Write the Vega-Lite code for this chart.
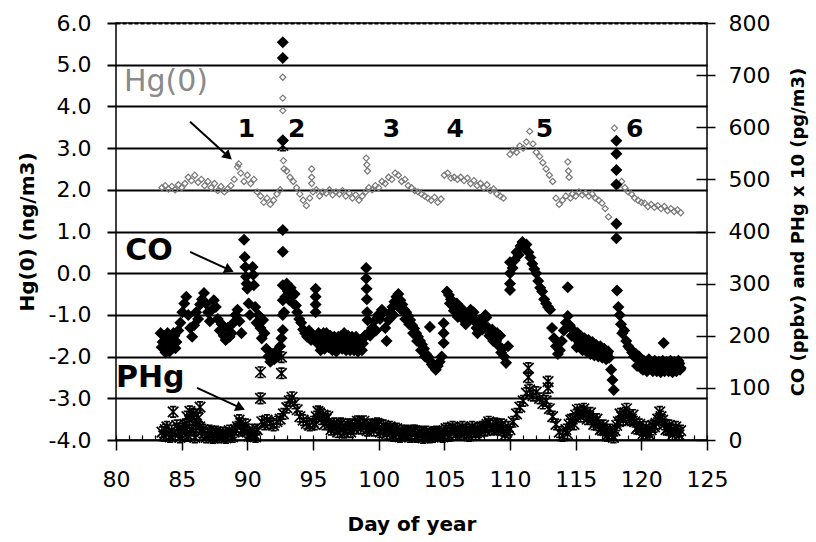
{
  "$schema": "https://vega.github.io/schema/vega-lite/v6.json",
  "width": 591,
  "height": 417,
  "autosize": {"type": "none"},
  "padding": {"left": 116, "top": 23, "right": 109, "bottom": 102},
  "background": "white",
  "config": {
    "view": {"stroke": "black", "strokeWidth": 1.5},
    "text": {"font": "DejaVu Sans"},
    "axis": {
      "labelFont": "DejaVu Sans",
      "labelFontSize": 22,
      "labelColor": "black",
      "titleFont": "DejaVu Sans",
      "titleColor": "black",
      "titleFontWeight": "bold",
      "tickColor": "black",
      "domain": false,
      "grid": false
    }
  },
  "datasets": {
    "hg": [
      {"day":83.5,"value":2.05},{"day":83.75,"value":2.1},{"day":84,"value":2.02},{"day":84.25,"value":2.08},{"day":84.5,"value":2.0},{"day":84.75,"value":2.12},
      {"day":85,"value":2.05},{"day":85.25,"value":2.15},{"day":85.5,"value":2.3},{"day":85.75,"value":2.22},{"day":86,"value":2.35},{"day":86.25,"value":2.18},
      {"day":86.5,"value":2.25},{"day":86.75,"value":2.1},{"day":87,"value":2.2},{"day":87.25,"value":2.05},{"day":87.5,"value":2.15},{"day":87.75,"value":1.98},
      {"day":88,"value":2.08},{"day":88.25,"value":1.95},{"day":88.5,"value":2.02},{"day":88.75,"value":2.1},{"day":89,"value":2.25},{"day":89.25,"value":2.55},
      {"day":89.35,"value":2.62},{"day":89.5,"value":2.4},{"day":89.75,"value":2.2},{"day":90,"value":2.35},{"day":90.25,"value":2.15},{"day":90.5,"value":2.25},
      {"day":90.75,"value":1.95},{"day":91,"value":1.85},{"day":91.25,"value":1.7},{"day":91.5,"value":1.8},{"day":91.75,"value":1.65},{"day":92,"value":1.75},
      {"day":92.25,"value":1.9},{"day":92.5,"value":2.0},{"day":92.7,"value":4.7},{"day":92.7,"value":4.2},{"day":92.7,"value":3.9},{"day":92.75,"value":2.7},
      {"day":92.8,"value":2.5},{"day":93,"value":2.45},{"day":93.25,"value":2.3},{"day":93.5,"value":2.2},{"day":93.75,"value":2.05},{"day":94,"value":1.9},
      {"day":94.25,"value":1.75},{"day":94.5,"value":1.62},{"day":94.75,"value":1.8},{"day":94.9,"value":2.5},{"day":94.9,"value":2.3},{"day":94.9,"value":2.15},
      {"day":95,"value":1.95},{"day":95.25,"value":2.0},{"day":95.5,"value":1.85},{"day":95.75,"value":1.95},{"day":96,"value":1.92},{"day":96.25,"value":2.0},
      {"day":96.5,"value":1.88},{"day":96.75,"value":1.95},{"day":97,"value":1.9},{"day":97.25,"value":1.98},{"day":97.5,"value":1.85},{"day":97.75,"value":1.92},
      {"day":98,"value":1.8},{"day":98.25,"value":1.88},{"day":98.5,"value":1.75},{"day":98.75,"value":1.85},{"day":99,"value":1.95},{"day":99.05,"value":2.76},
      {"day":99.1,"value":2.6},{"day":99.15,"value":2.45},{"day":99.25,"value":2.05},{"day":99.5,"value":2.0},{"day":99.75,"value":2.1},{"day":100,"value":2.05},
      {"day":100.25,"value":2.2},{"day":100.5,"value":2.15},{"day":100.75,"value":2.3},{"day":101,"value":2.25},{"day":101.25,"value":2.4},{"day":101.5,"value":2.35},
      {"day":101.75,"value":2.2},{"day":102,"value":2.25},{"day":102.25,"value":2.1},{"day":102.5,"value":2.05},{"day":102.75,"value":1.98},{"day":103,"value":1.95},
      {"day":103.25,"value":1.9},{"day":103.5,"value":1.85},{"day":103.75,"value":1.8},{"day":104,"value":1.75},{"day":104.25,"value":1.82},{"day":104.5,"value":1.7},
      {"day":104.75,"value":1.78},{"day":105,"value":2.35},{"day":105.25,"value":2.4},{"day":105.5,"value":2.28},{"day":105.75,"value":2.3},{"day":106,"value":2.25},
      {"day":106.25,"value":2.3},{"day":106.5,"value":2.22},{"day":106.75,"value":2.28},{"day":107,"value":2.15},{"day":107.25,"value":2.22},{"day":107.5,"value":2.1},
      {"day":107.75,"value":2.15},{"day":108,"value":2.05},{"day":108.25,"value":2.12},{"day":108.5,"value":1.98},{"day":108.75,"value":2.02},{"day":109,"value":1.9},
      {"day":109.25,"value":1.85},{"day":109.5,"value":1.8},{"day":110,"value":2.85},{"day":110.25,"value":2.95},{"day":110.5,"value":2.9},{"day":110.75,"value":3.05},
      {"day":111,"value":3.0},{"day":111.25,"value":3.15},{"day":111.5,"value":3.4},{"day":111.75,"value":3.1},{"day":112,"value":2.9},{"day":112.25,"value":2.8},
      {"day":112.5,"value":2.65},{"day":112.75,"value":2.5},{"day":113,"value":2.35},{"day":113.25,"value":2.2},{"day":113.5,"value":1.8},{"day":113.75,"value":1.65},
      {"day":114,"value":1.75},{"day":114.4,"value":2.67},{"day":114.45,"value":2.45},{"day":114.5,"value":2.3},{"day":114.25,"value":1.85},{"day":114.6,"value":1.8},
      {"day":114.75,"value":1.9},{"day":115,"value":1.85},{"day":115.25,"value":1.95},{"day":115.5,"value":1.88},{"day":115.75,"value":1.92},{"day":116,"value":1.85},
      {"day":116.25,"value":1.9},{"day":116.5,"value":1.8},{"day":116.75,"value":1.75},{"day":117,"value":1.68},{"day":117.25,"value":1.55},{"day":117.5,"value":1.35},
      {"day":117.95,"value":3.48},{"day":118.25,"value":2.1},{"day":118.5,"value":2.2},{"day":118.75,"value":2.05},{"day":119,"value":1.95},{"day":119.25,"value":1.9},
      {"day":119.5,"value":1.8},{"day":119.75,"value":1.75},{"day":120,"value":1.7},{"day":120.25,"value":1.68},{"day":120.5,"value":1.6},{"day":120.75,"value":1.65},
      {"day":121,"value":1.58},{"day":121.25,"value":1.62},{"day":121.5,"value":1.55},{"day":121.75,"value":1.6},{"day":122,"value":1.5},{"day":122.25,"value":1.55},
      {"day":122.5,"value":1.48},{"day":122.75,"value":1.52},{"day":123,"value":1.45}
    ],
    "co": [
      {"day":83.4,"value":205},{"day":83.55,"value":188},{"day":83.7,"value":175},{"day":83.85,"value":190},{"day":84,"value":178},{"day":84.15,"value":195},
      {"day":84.3,"value":182},{"day":84.45,"value":200},{"day":84.6,"value":188},{"day":84.75,"value":210},{"day":84.9,"value":225},{"day":85.05,"value":245},
      {"day":83.475,"value":178},{"day":83.625,"value":200},{"day":83.775,"value":168},{"day":83.925,"value":205},{"day":84.075,"value":170},{"day":84.225,"value":188},
      {"day":84.375,"value":205},{"day":84.525,"value":176},
      {"day":85.2,"value":262},{"day":85.35,"value":275},{"day":85.5,"value":240},{"day":85.65,"value":215},{"day":85.8,"value":198},{"day":85.95,"value":220},
      {"day":86.1,"value":245},{"day":86.25,"value":232},{"day":86.4,"value":260},{"day":86.55,"value":270},{"day":86.7,"value":282},{"day":86.85,"value":262},
      {"day":87,"value":245},{"day":87.15,"value":228},{"day":87.3,"value":250},{"day":87.45,"value":268},{"day":87.6,"value":255},{"day":87.75,"value":232},
      {"day":87.9,"value":210},{"day":88.05,"value":222},{"day":88.2,"value":200},{"day":88.35,"value":192},{"day":88.5,"value":215},{"day":88.65,"value":198},
      {"day":88.8,"value":205},{"day":88.95,"value":225},{"day":89.1,"value":240},{"day":89.25,"value":250},{"day":89.4,"value":228},{"day":89.55,"value":205},
      {"day":89.75,"value":384},{"day":89.8,"value":351},{"day":89.85,"value":332},{"day":89.9,"value":313},{"day":89.95,"value":300},{"day":90,"value":290},
      {"day":90.1,"value":262},{"day":90.2,"value":240},{"day":90.4,"value":332},{"day":90.45,"value":317},{"day":90.5,"value":297},{"day":90.6,"value":255},
      {"day":90.7,"value":225},{"day":90.85,"value":240},{"day":91,"value":215},{"day":91.1,"value":195},{"day":91.2,"value":230},{"day":91.3,"value":205},
      {"day":91.45,"value":175},{"day":91.6,"value":160},{"day":91.75,"value":150},{"day":91.9,"value":165},{"day":92.05,"value":155},{"day":92.2,"value":170},
      {"day":92.35,"value":160},{"day":92.5,"value":180},{"day":92.6,"value":195},{"day":92.7,"value":763},{"day":92.7,"value":733},{"day":92.7,"value":575},
      {"day":92.7,"value":403},{"day":92.7,"value":361},{"day":92.7,"value":297},{"day":92.7,"value":268},{"day":92.7,"value":240},{"day":92.7,"value":211},
      {"day":92.8,"value":245},{"day":92.9,"value":275},{"day":93,"value":300},{"day":93.1,"value":285},{"day":93.2,"value":268},{"day":93.3,"value":292},
      {"day":93.4,"value":275},{"day":93.5,"value":262},{"day":93.6,"value":280},{"day":93.7,"value":258},{"day":93.8,"value":245},{"day":93.95,"value":232},
      {"day":94.1,"value":225},{"day":94.25,"value":212},{"day":94.4,"value":205},{"day":94.55,"value":198},{"day":94.7,"value":210},{"day":94.85,"value":192},
      {"day":95,"value":200},{"day":95.2,"value":290},{"day":95.2,"value":275},{"day":95.2,"value":260},{"day":95.2,"value":245},{"day":95.35,"value":185},
      {"day":95.5,"value":195},{"day":95.65,"value":180},{"day":95.8,"value":205},{"day":95.95,"value":190},{"day":96.1,"value":198},{"day":96.25,"value":182},
      {"day":96.4,"value":195},{"day":96.55,"value":178},{"day":96.7,"value":190},{"day":96.85,"value":175},{"day":97,"value":188},{"day":97.15,"value":200},
      {"day":97.3,"value":185},{"day":97.45,"value":195},{"day":97.6,"value":178},{"day":97.75,"value":190},{"day":97.9,"value":182},{"day":98.05,"value":195},
      {"day":98.2,"value":180},{"day":98.35,"value":188},{"day":98.5,"value":176},{"day":98.65,"value":192},{"day":98.8,"value":185},{"day":98.95,"value":200},
      {"day":95.425,"value":205},{"day":95.575,"value":172},{"day":95.725,"value":198},{"day":95.875,"value":175},{"day":96.025,"value":205},{"day":96.175,"value":178},
      {"day":96.325,"value":200},{"day":96.475,"value":172},{"day":96.625,"value":198},{"day":96.775,"value":170},{"day":96.925,"value":198},{"day":97.075,"value":178},
      {"day":97.225,"value":175},{"day":97.375,"value":205},{"day":97.525,"value":172},{"day":97.675,"value":200},{"day":97.825,"value":172},{"day":97.975,"value":198},
      {"day":98.125,"value":172},{"day":98.275,"value":198},{"day":98.425,"value":170},{"day":98.575,"value":186},{"day":98.725,"value":172},{"day":98.875,"value":196},
      {"day":99.05,"value":330},{"day":99.05,"value":310},{"day":99.08,"value":290},{"day":99.1,"value":270},{"day":99.12,"value":245},{"day":99.15,"value":230},
      {"day":99.2,"value":205},{"day":99.35,"value":200},{"day":99.5,"value":215},{"day":99.65,"value":228},{"day":99.8,"value":210},{"day":99.95,"value":240},
      {"day":100.1,"value":232},{"day":100.25,"value":250},{"day":100.35,"value":245},{"day":100.5,"value":215},{"day":100.6,"value":190},{"day":100.75,"value":230},
      {"day":100.9,"value":245},{"day":101.05,"value":255},{"day":101.2,"value":265},{"day":101.35,"value":275},{"day":101.5,"value":280},{"day":101.65,"value":268},
      {"day":101.8,"value":260},{"day":101.95,"value":250},{"day":102.1,"value":245},{"day":102.25,"value":238},{"day":102.4,"value":230},{"day":102.55,"value":220},
      {"day":102.7,"value":214},{"day":102.85,"value":205},{"day":103,"value":198},{"day":103.15,"value":190},{"day":103.3,"value":183},{"day":103.45,"value":175},
      {"day":101.125,"value":240},{"day":101.425,"value":258},{"day":101.725,"value":250},{"day":102.025,"value":232},{"day":102.325,"value":222},{"day":102.625,"value":205},
      {"day":102.925,"value":190},{"day":103.225,"value":172},{"day":103.525,"value":160},
      {"day":103.6,"value":165},{"day":103.9,"value":217},{"day":103.75,"value":160},{"day":103.9,"value":152},{"day":104.05,"value":145},{"day":104.2,"value":140},
      {"day":104.35,"value":135},{"day":104.5,"value":142},{"day":104.65,"value":150},{"day":104.8,"value":160},{"day":104.95,"value":186},{"day":104.95,"value":205},
      {"day":104.95,"value":224},{"day":105.2,"value":285},{"day":105.35,"value":278},{"day":105.5,"value":270},{"day":105.65,"value":262},{"day":105.8,"value":255},
      {"day":105.95,"value":262},{"day":106.1,"value":248},{"day":106.25,"value":240},{"day":106.4,"value":232},{"day":106.55,"value":238},{"day":106.7,"value":225},
      {"day":106.85,"value":242},{"day":107,"value":250},{"day":107.15,"value":235},{"day":107.3,"value":228},{"day":107.45,"value":215},{"day":107.6,"value":222},
      {"day":107.75,"value":230},{"day":107.9,"value":212},{"day":108.05,"value":220},{"day":108.2,"value":235},{"day":108.35,"value":215},{"day":108.5,"value":205},
      {"day":108.65,"value":212},{"day":108.8,"value":198},{"day":108.95,"value":190},{"day":109.1,"value":182},{"day":109.25,"value":200},{"day":109.4,"value":175},
      {"day":105.425,"value":262},{"day":105.725,"value":248},{"day":106.025,"value":236},{"day":106.325,"value":252},{"day":106.625,"value":222},{"day":106.925,"value":232},
      {"day":107.225,"value":245},{"day":107.525,"value":205},{"day":107.825,"value":218},{"day":108.125,"value":240},{"day":108.425,"value":200},{"day":108.725,"value":190},
      {"day":109.025,"value":205},{"day":109.325,"value":168},
      {"day":109.55,"value":160},{"day":109.7,"value":148},{"day":109.85,"value":180},{"day":110,"value":288},{"day":110,"value":300},{"day":110,"value":320},
      {"day":110,"value":341},{"day":110.2,"value":330},{"day":110.35,"value":345},{"day":110.5,"value":360},{"day":110.65,"value":355},{"day":110.8,"value":372},
      {"day":110.95,"value":380},{"day":111.1,"value":368},{"day":111.25,"value":375},{"day":111.4,"value":360},{"day":111.55,"value":350},{"day":111.7,"value":338},
      {"day":111.85,"value":328},{"day":112,"value":320},{"day":112.15,"value":305},{"day":112.3,"value":292},{"day":112.45,"value":285},{"day":112.6,"value":270},
      {"day":112.75,"value":262},{"day":112.9,"value":255},{"day":113.05,"value":250},{"day":113.2,"value":215},{"day":113.35,"value":195},{"day":113.5,"value":180},
      {"day":113.65,"value":165},{"day":113.8,"value":172},{"day":113.95,"value":190},{"day":114.1,"value":210},{"day":114.25,"value":225},{"day":114.4,"value":238},
      {"day":114.4,"value":293},{"day":114.55,"value":220},{"day":114.7,"value":200},{"day":114.85,"value":210},{"day":115,"value":195},{"day":115.15,"value":205},
      {"day":115.3,"value":185},{"day":115.45,"value":195},{"day":115.6,"value":178},{"day":115.75,"value":190},{"day":115.9,"value":180},{"day":116.05,"value":185},
      {"day":116.2,"value":172},{"day":116.35,"value":180},{"day":116.5,"value":170},{"day":116.65,"value":175},{"day":116.8,"value":165},{"day":116.95,"value":172},
      {"day":117.1,"value":168},{"day":117.25,"value":160},{"day":117.4,"value":165},{"day":117.55,"value":158},{"day":117.7,"value":135},{"day":117.8,"value":115},
      {"day":115.075,"value":178},{"day":115.225,"value":190},{"day":115.375,"value":200},{"day":115.525,"value":172},{"day":115.675,"value":195},{"day":115.825,"value":170},
      {"day":115.975,"value":192},{"day":116.125,"value":165},{"day":116.275,"value":188},{"day":116.425,"value":162},{"day":116.575,"value":182},{"day":116.725,"value":160},
      {"day":116.875,"value":180},{"day":117.025,"value":158},{"day":117.175,"value":175},{"day":117.325,"value":155},{"day":117.475,"value":170},
      {"day":117.9,"value":96},{"day":118.1,"value":574},{"day":118.1,"value":549},{"day":118.1,"value":518},{"day":118.1,"value":490},{"day":118.1,"value":415},
      {"day":118.1,"value":387},{"day":118.15,"value":287},{"day":118.25,"value":255},{"day":118.35,"value":240},{"day":118.45,"value":222},{"day":118.55,"value":205},
      {"day":118.7,"value":210},{"day":118.85,"value":190},{"day":119,"value":180},{"day":119.15,"value":175},{"day":119.3,"value":168},{"day":119.45,"value":160},
      {"day":119.6,"value":165},{"day":119.75,"value":155},{"day":119.9,"value":150},{"day":120.05,"value":145},{"day":120.2,"value":152},{"day":120.35,"value":140},
      {"day":120.5,"value":148},{"day":120.65,"value":138},{"day":120.8,"value":145},{"day":120.95,"value":150},{"day":121.1,"value":140},{"day":121.25,"value":147},
      {"day":121.4,"value":138},{"day":121.55,"value":145},{"day":121.7,"value":186},{"day":121.7,"value":142},{"day":121.85,"value":138},{"day":122,"value":148},
      {"day":122.15,"value":140},{"day":122.3,"value":145},{"day":122.45,"value":136},{"day":122.6,"value":143},{"day":122.75,"value":140},{"day":122.9,"value":147},
      {"day":123,"value":138},
      {"day":119.675,"value":142},{"day":119.825,"value":160},{"day":119.975,"value":138},{"day":120.125,"value":135},{"day":120.275,"value":145},{"day":120.425,"value":132},
      {"day":120.575,"value":155},{"day":120.725,"value":150},{"day":120.875,"value":132},{"day":121.025,"value":152},{"day":121.175,"value":132},{"day":121.325,"value":150},
      {"day":121.475,"value":130},{"day":121.625,"value":152},{"day":121.775,"value":132},{"day":121.925,"value":150},{"day":122.075,"value":132},{"day":122.225,"value":152},
      {"day":122.375,"value":130},{"day":122.525,"value":150},{"day":122.675,"value":132},{"day":122.825,"value":152},{"day":122.95,"value":135}
    ],
    "phg": [
      {"day":83.5,"value":15},{"day":83.75,"value":20},{"day":84,"value":12},{"day":84.25,"value":18},{"day":84.35,"value":54},{"day":84.5,"value":10},
      {"day":84.75,"value":22},{"day":85,"value":15},{"day":85.25,"value":30},{"day":85.4,"value":45},{"day":85.5,"value":8},{"day":85.6,"value":38},
      {"day":85.75,"value":20},{"day":85.9,"value":50},{"day":86,"value":5},{"day":86.1,"value":30},{"day":86.25,"value":42},{"day":86.4,"value":63},
      {"day":86.5,"value":15},{"day":86.75,"value":12},{"day":87,"value":10},{"day":87.25,"value":15},{"day":87.5,"value":8},{"day":87.75,"value":12},
      {"day":88,"value":10},{"day":88.25,"value":8},{"day":88.5,"value":12},{"day":88.75,"value":10},{"day":89,"value":15},{"day":89.25,"value":25},
      {"day":89.5,"value":32},{"day":89.75,"value":22},{"day":90,"value":15},{"day":90.25,"value":10},{"day":90.5,"value":12},{"day":90.75,"value":20},
      {"day":83.625,"value":8},{"day":83.875,"value":25},{"day":84.125,"value":6},{"day":84.625,"value":28},{"day":84.875,"value":5},{"day":85.125,"value":22},
      {"day":85.375,"value":12},{"day":85.625,"value":55},{"day":85.875,"value":18},{"day":86.125,"value":48},{"day":86.375,"value":25},{"day":86.625,"value":20},
      {"day":86.875,"value":5},{"day":87.125,"value":18},{"day":87.375,"value":4},{"day":87.625,"value":16},{"day":87.875,"value":5},{"day":88.125,"value":14},
      {"day":88.375,"value":4},{"day":88.625,"value":18},{"day":88.875,"value":6},{"day":89.125,"value":20},{"day":89.375,"value":38},{"day":89.625,"value":18},
      {"day":89.875,"value":30},{"day":90.125,"value":8},{"day":90.375,"value":20},{"day":90.625,"value":6},
      {"day":91,"value":130},{"day":91,"value":80},{"day":91.1,"value":35},{"day":91.3,"value":30},{"day":91.5,"value":38},{"day":91.75,"value":32},
      {"day":92,"value":28},{"day":92.25,"value":35},{"day":92.5,"value":40},{"day":92.6,"value":159},{"day":92.6,"value":128},{"day":92.7,"value":565},
      {"day":92.75,"value":50},{"day":93,"value":62},{"day":93.2,"value":75},{"day":93.4,"value":82},{"day":93.6,"value":70},{"day":93.8,"value":58},
      {"day":94,"value":45},{"day":94.25,"value":38},{"day":94.5,"value":32},{"day":94.75,"value":28},{"day":95,"value":35},{"day":95.25,"value":45},
      {"day":95.5,"value":52},{"day":95.75,"value":48},{"day":96,"value":40},{"day":96.25,"value":30},{"day":96.5,"value":25},{"day":96.75,"value":22},
      {"day":97,"value":28},{"day":97.25,"value":20},{"day":97.5,"value":25},{"day":97.75,"value":22},{"day":98,"value":30},{"day":98.25,"value":28},
      {"day":98.5,"value":35},{"day":98.75,"value":30},{"day":99,"value":25},{"day":99.25,"value":22},{"day":99.5,"value":28},{"day":99.75,"value":25},
      {"day":100,"value":30},{"day":100.25,"value":22},{"day":100.5,"value":18},{"day":100.75,"value":22},{"day":101,"value":15},{"day":101.25,"value":20},
      {"day":101.5,"value":12},{"day":101.75,"value":18},{"day":102,"value":10},{"day":102.25,"value":15},{"day":102.5,"value":12},{"day":102.75,"value":18},
      {"day":103,"value":10},{"day":103.25,"value":14},{"day":103.5,"value":8},{"day":103.75,"value":12},{"day":104,"value":10},{"day":104.25,"value":15},
      {"day":104.5,"value":8},{"day":104.75,"value":12},{"day":105,"value":18},{"day":105.25,"value":12},{"day":105.5,"value":20},{"day":105.75,"value":15},
      {"day":106,"value":22},{"day":106.25,"value":18},{"day":106.5,"value":12},{"day":106.75,"value":15},{"day":107,"value":20},{"day":107.25,"value":15},
      {"day":107.5,"value":22},{"day":107.75,"value":18},{"day":108,"value":25},{"day":108.25,"value":30},{"day":108.5,"value":28},{"day":108.75,"value":22},
      {"day":109,"value":30},{"day":109.25,"value":25},{"day":109.5,"value":18},{"day":109.75,"value":15},{"day":110,"value":20},{"day":110.25,"value":35},
      {"day":95.125,"value":30},{"day":95.375,"value":55},{"day":95.625,"value":40},{"day":95.875,"value":30},{"day":96.125,"value":45},{"day":96.375,"value":20},
      {"day":96.625,"value":32},{"day":96.875,"value":15},{"day":97.125,"value":32},{"day":97.375,"value":14},{"day":97.625,"value":30},{"day":97.875,"value":15},
      {"day":98.125,"value":22},{"day":98.375,"value":36},{"day":98.625,"value":22},{"day":98.875,"value":36},{"day":99.125,"value":18},{"day":99.375,"value":30},
      {"day":99.625,"value":18},{"day":99.875,"value":32},{"day":100.125,"value":15},{"day":100.375,"value":28},{"day":100.625,"value":12},{"day":100.875,"value":25},
      {"day":101.125,"value":8},{"day":101.375,"value":22},{"day":101.625,"value":6},{"day":101.875,"value":14},{"day":102.125,"value":18},{"day":102.375,"value":6},
      {"day":102.625,"value":18},{"day":102.875,"value":6},{"day":103.125,"value":16},{"day":103.375,"value":4},{"day":103.625,"value":16},{"day":103.875,"value":5},
      {"day":104.125,"value":6},{"day":104.375,"value":16},{"day":104.625,"value":14},{"day":104.875,"value":6},{"day":105.125,"value":22},{"day":105.375,"value":8},
      {"day":105.625,"value":25},{"day":105.875,"value":10},{"day":106.125,"value":15},{"day":106.375,"value":25},{"day":106.625,"value":20},{"day":106.875,"value":8},
      {"day":107.125,"value":25},{"day":107.375,"value":10},{"day":107.625,"value":15},{"day":107.875,"value":25},{"day":108.125,"value":18},{"day":108.375,"value":35},
      {"day":108.625,"value":20},{"day":108.875,"value":32},{"day":109.125,"value":20},{"day":109.375,"value":30},{"day":109.625,"value":10},{"day":109.875,"value":25},
      {"day":110.5,"value":50},{"day":110.75,"value":63},{"day":111,"value":75},{"day":111.25,"value":90},{"day":111.4,"value":138},{"day":111.4,"value":120},
      {"day":111.5,"value":96},{"day":111.75,"value":85},{"day":112,"value":92},{"day":112.25,"value":80},{"day":112.5,"value":70},{"day":112.75,"value":75},
      {"day":112.9,"value":112},{"day":112.9,"value":100},{"day":113,"value":60},{"day":113.25,"value":45},{"day":113.5,"value":30},{"day":113.75,"value":15},
      {"day":114,"value":8},{"day":114.25,"value":20},{"day":114.5,"value":30},{"day":114.75,"value":40},{"day":115,"value":48},{"day":115.25,"value":52},
      {"day":115.5,"value":55},{"day":115.75,"value":50},{"day":116,"value":45},{"day":116.25,"value":40},{"day":116.5,"value":35},{"day":116.75,"value":28},
      {"day":117,"value":22},{"day":117.25,"value":18},{"day":117.5,"value":12},{"day":117.75,"value":10},{"day":118,"value":18},{"day":118.25,"value":35},
      {"day":118.5,"value":45},{"day":118.75,"value":52},{"day":119,"value":48},{"day":119.25,"value":40},{"day":119.5,"value":35},{"day":119.75,"value":25},
      {"day":120,"value":20},{"day":120.25,"value":18},{"day":120.5,"value":15},{"day":120.75,"value":20},{"day":121,"value":25},{"day":121.25,"value":40},
      {"day":121.4,"value":54},{"day":121.5,"value":45},{"day":121.75,"value":30},{"day":122,"value":22},{"day":122.25,"value":18},{"day":122.5,"value":20},
      {"day":122.75,"value":15},{"day":123,"value":18},
      {"day":114.375,"value":12},{"day":114.625,"value":38},{"day":114.875,"value":30},{"day":115.125,"value":58},{"day":115.375,"value":45},{"day":115.625,"value":60},
      {"day":115.875,"value":40},{"day":116.125,"value":52},{"day":116.375,"value":30},{"day":116.625,"value":40},{"day":116.875,"value":20},{"day":117.125,"value":28},
      {"day":117.375,"value":8},{"day":117.625,"value":20},{"day":117.875,"value":5},{"day":118.125,"value":28},{"day":118.375,"value":50},{"day":118.625,"value":38},
      {"day":118.875,"value":60},{"day":119.125,"value":38},{"day":119.375,"value":48},{"day":119.625,"value":22},{"day":119.875,"value":30},{"day":120.125,"value":12},
      {"day":120.375,"value":25},{"day":120.625,"value":10},{"day":120.875,"value":28},{"day":121.125,"value":32},{"day":121.625,"value":38},{"day":121.875,"value":20},
      {"day":122.125,"value":28},{"day":122.375,"value":10},{"day":122.625,"value":25},{"day":122.875,"value":10}
    ],
    "seriesLabels": [
      {"label":"Hg(0)","day":80.6,"value":4.37},
      {"label":"CO","day":80.7,"value":0.32},
      {"label":"PHg","day":80.0,"value":-2.73}
    ],
    "events": [
      {"label":"1","day":89.94,"value":3.27},
      {"label":"2","day":93.75,"value":3.27},
      {"label":"3","day":100.98,"value":3.27},
      {"label":"4","day":105.82,"value":3.27},
      {"label":"5","day":112.63,"value":3.27},
      {"label":"6","day":119.49,"value":3.27}
    ],
    "arrows": [
      {"name":"Hg(0)","day":85.64,"value":3.63,"day2":88.55,"value2":2.8},
      {"name":"CO","day":85.64,"value":0.51,"day2":88.63,"value2":0.08},
      {"name":"PHg","day":86.17,"value":-2.75,"day2":89.48,"value2":-3.23}
    ],
    "arrowHeads": [
      {"name":"Hg(0)","day":88.55,"value":2.8},
      {"name":"CO","day":88.63,"value":0.08},
      {"name":"PHg","day":89.48,"value":-3.23}
    ]
  },
  "layer": [
    {
      "encoding": {
        "x": {
          "field": "day",
          "type": "quantitative",
          "scale": {"domain": [80, 125], "nice": false, "zero": false},
          "axis": {
            "orient": "bottom",
            "values": [80, 85, 90, 95, 100, 105, 110, 115, 120, 125],
            "tickSize": 10,
            "tickWidth": 1.5,
            "labelPadding": 19,
            "labelFlush": false,
            "labelOverlap": false,
            "title": "Day of year",
            "titleFontSize": 20,
            "titlePadding": 24
          }
        },
        "y": {
          "field": "value",
          "type": "quantitative",
          "scale": {"domain": [-4, 6], "nice": false, "zero": false},
          "axis": {
            "orient": "left",
            "values": [-4, -3, -2, -1, 0, 1, 2, 3, 4, 5, 6],
            "labelExpr": "(datum.value < 0 ? '-' : '') + format(abs(datum.value), '.1f')",
            "grid": true,
            "gridColor": "black",
            "gridWidth": 2,
            "gridDash": {"condition": {"test": "datum.value == 6", "value": [4, 2]}, "value": []},
            "tickSize": 9,
            "tickWidth": 2,
            "labelPadding": 16,
            "labelFlush": false,
            "title": "Hg(0) (ng/m3)",
            "titleFontSize": 20,
            "titlePadding": 11
          }
        }
      },
      "layer": [
        {
          "data": {"name": "hg"},
          "mark": {"type": "point", "shape": "diamond", "filled": false, "stroke": "#7a7a7a", "strokeWidth": 1.2, "size": 38, "opacity": 1}
        },
        {
          "data": {"name": "arrows"},
          "mark": {"type": "rule", "stroke": "black", "strokeWidth": 2},
          "encoding": {"x2": {"field": "day2"}, "y2": {"field": "value2"}}
        },
        {
          "data": {"name": "arrowHeads"},
          "transform": [{"filter": "datum.name == 'Hg(0)'"}],
          "mark": {"type": "point", "shape": "triangle-right", "filled": true, "color": "black", "size": 120, "angle": 42, "opacity": 1}
        },
        {
          "data": {"name": "arrowHeads"},
          "transform": [{"filter": "datum.name != 'Hg(0)'"}],
          "mark": {"type": "point", "shape": "triangle-right", "filled": true, "color": "black", "size": 120, "angle": 24, "opacity": 1}
        },
        {
          "data": {"name": "seriesLabels"},
          "transform": [{"filter": "datum.label == 'Hg(0)'"}],
          "mark": {"type": "text", "align": "left", "baseline": "alphabetic", "fontSize": 30, "color": "#8a8a8a"},
          "encoding": {"text": {"field": "label"}}
        },
        {
          "data": {"name": "seriesLabels"},
          "transform": [{"filter": "datum.label != 'Hg(0)'"}],
          "mark": {"type": "text", "align": "left", "baseline": "alphabetic", "fontSize": 30, "fontWeight": "bold", "color": "black"},
          "encoding": {"text": {"field": "label"}}
        },
        {
          "data": {"name": "events"},
          "mark": {"type": "text", "align": "center", "baseline": "alphabetic", "fontSize": 25, "fontWeight": "bold", "color": "black"},
          "encoding": {"text": {"field": "label"}}
        }
      ]
    },
    {
      "encoding": {
        "x": {
          "field": "day",
          "type": "quantitative",
          "scale": {"domain": [80, 125], "nice": false, "zero": false},
          "axis": {
            "orient": "bottom",
            "values": [80,81,82,83,84,85,86,87,88,89,90,91,92,93,94,95,96,97,98,99,100,101,102,103,104,105,106,107,108,109,110,111,112,113,114,115,116,117,118,119,120,121,122,123,124,125],
            "tickSize": 5,
            "tickWidth": 1.2,
            "offset": -5,
            "labels": false,
            "title": null
          }
        },
        "y": {
          "field": "value",
          "type": "quantitative",
          "scale": {"domain": [0, 800], "nice": false, "zero": false},
          "axis": {
            "orient": "right",
            "values": [0, 100, 200, 300, 400, 500, 600, 700, 800],
            "offset": -11,
            "tickSize": 19,
            "tickWidth": 1.5,
            "labelPadding": 13,
            "labelFlush": false,
            "title": "CO (ppbv) and PHg x 10 (pg/m3)",
            "titleFontSize": 18,
            "titleAngle": 270,
            "titleBaseline": "top",
            "titlePadding": 20
          }
        }
      },
      "layer": [
        {
          "data": {"name": "co"},
          "mark": {"type": "point", "shape": "diamond", "filled": true, "color": "black", "size": 145, "opacity": 1}
        },
        {
          "data": {"name": "phg"},
          "mark": {"type": "point", "shape": "M-1,-1L1,1M1,-1L-1,1M0,-1L0,1M-0.6,-1L0.6,-1M-0.6,1L0.6,1", "filled": false, "stroke": "black", "strokeWidth": 1.7, "size": 110, "opacity": 1}
        }
      ]
    }
  ],
  "resolve": {"scale": {"y": "independent"}, "axis": {"x": "independent", "y": "independent"}}
}
